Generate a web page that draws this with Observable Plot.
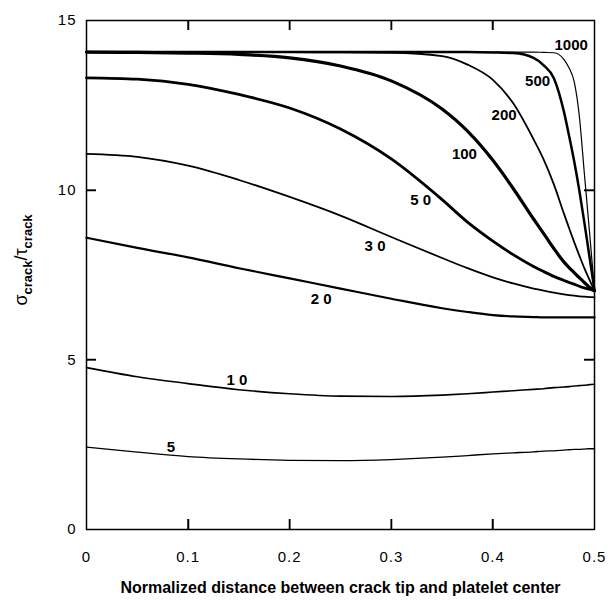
<!DOCTYPE html>
<html><head><meta charset="utf-8">
<script src="https://cdn.jsdelivr.net/npm/d3@7"></script>
<script src="https://cdn.jsdelivr.net/npm/@observablehq/plot@0.6"></script>
<style>
body{margin:0;background:#fff;}
#chart svg{display:block}
g[aria-label="curve labels"] text{letter-spacing:2.5px}
g[aria-label="x-axis tick label"] text, g[aria-label="y-axis tick label"] text{letter-spacing:1px}
</style></head><body><div id="chart"></div>
<script>
// x positions (normalized distance) shared by all curves
const xGrid = [0, 0.05, 0.1, 0.15, 0.2, 0.25, 0.3, 0.35, 0.375, 0.4, 0.42, 0.44, 0.45, 0.46, 0.47, 0.475, 0.48, 0.485, 0.49, 0.495, 0.5];
const aspectRatios = [5, 10, 20, 30, 50, 100, 200, 500, 1000];
const s5    = [2.43, 2.28, 2.15, 2.08, 2.04, 2.03, 2.06, 2.13, 2.18, 2.23, 2.26, 2.29, 2.31, 2.32, 2.34, 2.35, 2.36, 2.36, 2.37, 2.38, 2.38];
const s10   = [4.77, 4.50, 4.30, 4.12, 4.00, 3.93, 3.92, 3.96, 4.00, 4.05, 4.09, 4.13, 4.15, 4.18, 4.20, 4.21, 4.23, 4.24, 4.25, 4.27, 4.28];
const s20   = [8.60, 8.30, 8.02, 7.70, 7.40, 7.10, 6.80, 6.52, 6.41, 6.32, 6.28, 6.26, 6.25, 6.25, 6.25, 6.25, 6.25, 6.25, 6.25, 6.25, 6.25];
const s30   = [11.07, 10.98, 10.72, 10.30, 9.80, 9.25, 8.62, 8.00, 7.70, 7.43, 7.25, 7.10, 7.04, 6.98, 6.93, 6.91, 6.89, 6.87, 6.86, 6.85, 6.84];
const s50   = [13.31, 13.27, 13.12, 12.82, 12.42, 11.80, 10.92, 9.72, 9.06, 8.50, 8.10, 7.75, 7.60, 7.46, 7.34, 7.28, 7.23, 7.17, 7.12, 7.08, 7.04];
const s100  = [14.07, 14.06, 14.04, 14.00, 13.90, 13.66, 13.22, 12.39, 11.74, 10.88, 10.05, 9.15, 8.72, 8.28, 7.88, 7.72, 7.57, 7.42, 7.28, 7.14, 7.03];
const s200  = [14.07, 14.07, 14.07, 14.07, 14.07, 14.06, 14.05, 13.95, 13.70, 13.25, 12.56, 11.50, 10.90, 10.17, 9.30, 8.88, 8.47, 8.08, 7.70, 7.36, 7.04];
const s500  = [14.07, 14.07, 14.07, 14.07, 14.07, 14.07, 14.07, 14.07, 14.07, 14.06, 14.04, 13.90, 13.68, 13.30, 12.30, 11.60, 10.85, 10.00, 9.05, 8.05, 7.04];
const s1000 = [14.07, 14.07, 14.07, 14.07, 14.07, 14.07, 14.07, 14.07, 14.07, 14.07, 14.07, 14.07, 14.06, 14.05, 13.85, 13.60, 13.20, 12.20, 10.50, 8.80, 7.04];
const seriesValues = [s5, s10, s20, s30, s50, s100, s200, s500, s1000];

// curve labels and their anchor points in data units
const labelText = ["5", "1 0", "2 0", "3 0", "5 0", "100", "200", "500", "1000"];
const labelX = [0.083, 0.148, 0.231, 0.284, 0.329, 0.372, 0.411, 0.444, 0.477];
const labelY = [2.42, 4.41, 6.79, 8.34, 9.70, 11.05, 12.20, 13.20, 14.28];

const xTicks = [0, 0.1, 0.2, 0.3, 0.4, 0.5];
const yTicks = [0, 5, 10, 15];
const innerXTicks = [0.1, 0.2, 0.3, 0.4];
const innerYTicks = [5, 10];
const xDomain = [0, 0.5];
const yDomain = [0, 15];
const xTitle = "Normalized distance between crack tip and platelet center";

// styles / layout
const W = 611, H = 606, mL = 86, mR = 17, mT = 20, mB = 77;
const tickLen = 10;
const frameW = W - mL - mR, frameH = H - mT - mB;
const tickDX = (xDomain[1] - xDomain[0]) * tickLen / frameW;
const tickDY = (yDomain[1] - yDomain[0]) * tickLen / frameH;
const strokeWidths = {5: 1.3, 10: 1.6, 20: 2.2, 30: 1.8, 50: 2.8, 100: 3.2, 200: 1.8, 500: 2.5, 1000: 1.2};
const font = "'Liberation Sans', Arial, Helvetica, sans-serif";

const rows = aspectRatios.flatMap((a, i) => xGrid.map((x, j) => ({a, x, y: seriesValues[i][j]})));
const labels = aspectRatios.map((a, i) => ({a, text: labelText[i], x: labelX[i], y: labelY[i]}));
const tk = {stroke: "#000", strokeWidth: 1.5, strokeOpacity: 1};

const chart = Plot.plot({
  width: W,
  height: H,
  marginLeft: mL,
  marginRight: mR,
  marginTop: mT,
  marginBottom: mB,
  style: {fontFamily: font, background: "white", color: "black"},
  x: {domain: xDomain},
  y: {domain: yDomain},
  marks: [
    Plot.axisX(xTicks, {anchor: "bottom", tickSize: 0, tickPadding: 22, tickFormat: d => String(d), fontSize: 15, label: null}),
    Plot.axisY(yTicks, {anchor: "left", tickSize: 0, tickPadding: 10, tickFormat: d => String(d), fontSize: 15, label: null}),
    ...aspectRatios.map(a => Plot.line(rows.filter(r => r.a === a), {
      x: "x", y: "y", curve: "monotone-x", stroke: "black", strokeWidth: strokeWidths[a]
    })),
    Plot.frame({stroke: "black", strokeWidth: 1.5}),
    Plot.ruleX(innerXTicks, {x: d => d, y1: yDomain[0], y2: yDomain[0] + tickDY, ...tk}),
    Plot.ruleX(innerXTicks, {x: d => d, y1: yDomain[1] - tickDY, y2: yDomain[1], ...tk}),
    Plot.ruleY(innerYTicks, {y: d => d, x1: xDomain[0], x2: xDomain[0] + tickDX, ...tk}),
    Plot.ruleY(innerYTicks, {y: d => d, x1: xDomain[1] - tickDX, x2: xDomain[1], ...tk}),
    Plot.text(labels, {x: "x", y: "y", text: "text", fontWeight: "bold", fontSize: 15, fill: "black", ariaLabel: "curve labels"}),
    Plot.text([xTitle], {text: d => d, frameAnchor: "bottom", dy: 63, fontWeight: "bold", fontSize: 16, fill: "black"})
  ]
});
document.getElementById("chart").appendChild(chart);

const svg = d3.select(chart);

// backup inward ticks positioned through Plot's own scales
try {
  const sx = chart.scale("x"), sy = chart.scale("y");
  const xL = sx.apply(xDomain[0]), xR = sx.apply(xDomain[1]);
  const yB = sy.apply(yDomain[0]), yT = sy.apply(yDomain[1]);
  const tg = svg.append("g").attr("aria-label", "inner ticks")
    .attr("stroke", "#000").attr("stroke-width", 1.5).attr("fill", "none");
  innerXTicks.forEach(v => {
    const x = Math.round(sx.apply(v)) + 0.5;
    tg.append("path").attr("d", `M${x},${yB}V${yB - tickLen}`);
    tg.append("path").attr("d", `M${x},${yT}V${yT + tickLen}`);
  });
  innerYTicks.forEach(v => {
    const y = Math.round(sy.apply(v)) + 0.5;
    tg.append("path").attr("d", `M${xL},${y}H${xL + tickLen}`);
    tg.append("path").attr("d", `M${xR},${y}H${xR - tickLen}`);
  });
} catch (e) {}

// y-axis title with subscripts
const t = svg.append("text")
  .attr("transform", "translate(27,260) rotate(-90)")
  .attr("text-anchor", "middle")
  .attr("font-family", font)
  .attr("font-size", 18)
  .attr("fill", "black");
t.append("tspan").text("σ");
t.append("tspan").attr("font-size", 13).attr("font-weight", "bold").attr("dy", 5).text("crack");
t.append("tspan").attr("dy", -5).text("/");
t.append("tspan").text("τ");
t.append("tspan").attr("font-size", 13).attr("font-weight", "bold").attr("dy", 5).text("crack");
</script></body></html>
